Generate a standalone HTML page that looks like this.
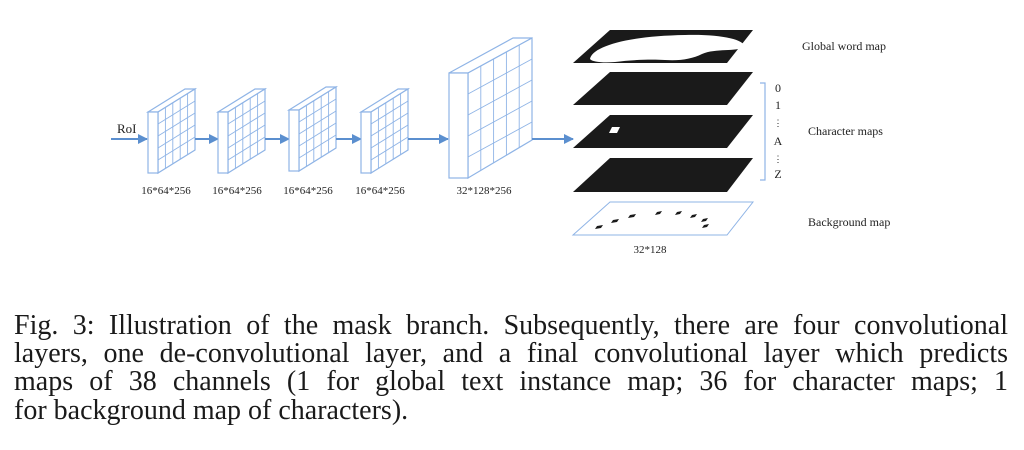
<!DOCTYPE html>
<html><head><meta charset="utf-8"><style>
body{margin:0;width:1024px;height:450px;background:#fff;overflow:hidden;position:relative}
svg{position:absolute;left:0;top:0}
.cap{position:absolute;left:14px;width:994px;font-family:"Liberation Serif",serif;font-size:28px;color:#1a1a1a;text-align:justify;text-align-last:justify;line-height:28px;white-space:normal}
</style></head><body>
<svg width="1024" height="300" viewBox="0 0 1024 300" font-family="Liberation Serif, serif">
<defs>
<marker id="ah" markerWidth="10" markerHeight="10" refX="9" refY="5" orient="auto" markerUnits="userSpaceOnUse"><path d="M0,0 L10,5 L0,10 z" fill="#5b8fcf"/></marker>
<g id="blk" fill="#fff" stroke="#8fb4e6" stroke-width="1.2">
<polygon points="0,23 10,23 47,0 37,0"/>
<polygon points="10,23 47,0 47,61 10,84"/>
<rect x="0" y="23" width="10" height="61"/>
<g stroke-width="0.9">
<line x1="17.4" y1="18.4" x2="17.4" y2="79.4"/><line x1="24.8" y1="13.8" x2="24.8" y2="74.8"/>
<line x1="32.2" y1="9.2" x2="32.2" y2="70.2"/><line x1="39.6" y1="4.6" x2="39.6" y2="65.6"/>
<line x1="10" y1="35" x2="47" y2="12"/><line x1="10" y1="47" x2="47" y2="24"/>
<line x1="10" y1="59" x2="47" y2="36"/><line x1="10" y1="71" x2="47" y2="48"/>
</g></g>
</defs>
<text x="117" y="133" font-size="13" fill="#222">RoI</text>
<line x1="111" y1="139" x2="147" y2="139" stroke="#5b8fcf" stroke-width="2" marker-end="url(#ah)"/>
<use href="#blk" x="148" y="89"/>
<line x1="195" y1="139" x2="218" y2="139" stroke="#5b8fcf" stroke-width="2" marker-end="url(#ah)"/>
<use href="#blk" x="218" y="89"/>
<line x1="265" y1="139" x2="289" y2="139" stroke="#5b8fcf" stroke-width="2" marker-end="url(#ah)"/>
<use href="#blk" x="289" y="87"/>
<line x1="336" y1="139" x2="361" y2="139" stroke="#5b8fcf" stroke-width="2" marker-end="url(#ah)"/>
<use href="#blk" x="361" y="89"/>
<line x1="408" y1="139" x2="448" y2="139" stroke="#5b8fcf" stroke-width="2" marker-end="url(#ah)"/>
<g fill="#fff" stroke="#8fb4e6" stroke-width="1.2">
<polygon points="449,73 468,73 532,38 513,38"/>
<polygon points="468,73 532,38 532,140 468,178"/>
<rect x="449" y="73" width="19" height="105"/>
<g stroke-width="0.9">
<line x1="480.8" y1="66" x2="480.8" y2="170.4"/><line x1="493.6" y1="59" x2="493.6" y2="162.8"/>
<line x1="506.4" y1="52" x2="506.4" y2="155.2"/><line x1="519.2" y1="45" x2="519.2" y2="147.6"/>
<line x1="468" y1="94" x2="532" y2="59"/><line x1="468" y1="115" x2="532" y2="80"/>
<line x1="468" y1="136" x2="532" y2="101"/><line x1="468" y1="157" x2="532" y2="122"/>
</g></g>
<line x1="532" y1="139" x2="573" y2="139" stroke="#5b8fcf" stroke-width="2" marker-end="url(#ah)"/>
<g font-size="11" fill="#222" text-anchor="middle">
<text x="166" y="194">16*64*256</text><text x="237" y="194">16*64*256</text>
<text x="308" y="194">16*64*256</text><text x="380" y="194">16*64*256</text>
<text x="484" y="194">32*128*256</text><text x="650" y="253">32*128</text>
</g>
<!-- maps -->
<polygon points="610,30 753,30 727,63 573,63" fill="#1a1a1a"/>
<path d="M590,59 C592,47 625,36 685,35 C722,34 746,40 744,47 C736,52 716,48 702,54 C692,59 680,61 665,60 C650,59 630,60 615,62 C603,63 592,62 590,59 Z" fill="#fff"/>
<polygon points="610,72 753,72 727,105 573,105" fill="#1a1a1a"/>
<polygon points="610,115 753,115 727,148 573,148" fill="#1a1a1a"/>
<polygon points="612,127 620,127 617,133 609,133" fill="#fff"/>
<polygon points="610,158 753,158 727,192 573,192" fill="#1a1a1a"/>
<polygon points="610,202 753,202 727,235 573,235" fill="#fff" stroke="#8fb4e6" stroke-width="1"/>
<g fill="#1a1a1a">
<polygon points="597,226 603,225 601,228 595,229"/><polygon points="613,220 619,219 617,222 611,223"/>
<polygon points="630,215 636,214 634,217 628,218"/><polygon points="657,212 662,211 660,214 655,215"/>
<polygon points="677,212 682,211 680,214 675,215"/><polygon points="692,215 697,214 695,217 690,218"/>
<polygon points="703,219 708,218 706,221 701,222"/><polygon points="704,225 709,224 707,227 702,228"/>
</g>
<path d="M760,83 L765,83 L765,180 L760,180" fill="none" stroke="#8fb4e6" stroke-width="1.2"/>
<g font-size="12" fill="#222" text-anchor="middle">
<text x="778" y="92">0</text><text x="778" y="109">1</text>
<text x="778" y="126" font-size="9">⋮</text>
<text x="778" y="145">A</text>
<text x="778" y="162" font-size="9">⋮</text>
<text x="778" y="178">Z</text>
</g>
<g font-size="12" fill="#222">
<text x="802" y="50">Global word map</text>
<text x="808" y="135">Character maps</text>
<text x="808" y="226">Background map</text>
</g>
</svg>
<div class="cap" style="top:312px">Fig. 3: Illustration of the mask branch. Subsequently, there are four convolutional</div>
<div class="cap" style="top:340px">layers, one de-convolutional layer, and a final convolutional layer which predicts</div>
<div class="cap" style="top:368px">maps of 38 channels (1 for global text instance map; 36 for character maps; 1</div>
<div class="cap" style="top:397px;text-align-last:left">for background map of characters).</div>
</body></html>
